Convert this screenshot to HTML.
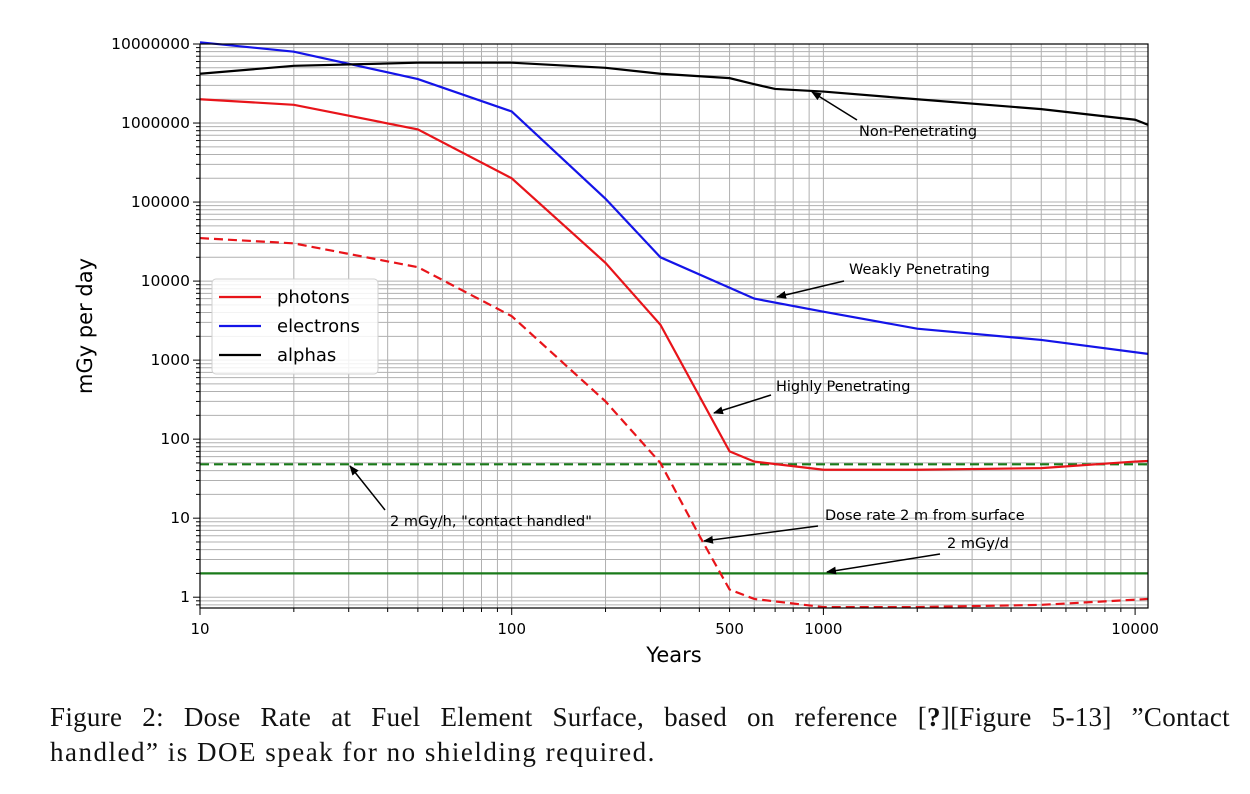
<!DOCTYPE html>
<html><head><meta charset="utf-8"><style>
body{margin:0;background:#fff;width:1250px;height:794px;overflow:hidden}
svg{position:absolute;left:0;top:0}
.cap{position:absolute;left:50px;top:700px;width:1180px;font-family:"Liberation Serif",serif;font-size:27px;letter-spacing:1.5px;line-height:35px;color:#111}
.l1{text-align:justify;text-align-last:justify;white-space:nowrap;letter-spacing:0.3px}
</style></head><body>
<svg id="chart" width="1250" height="690" font-family="DejaVu Sans, Liberation Sans, sans-serif"></svg>
<div class="cap"><div class="l1">Figure 2: Dose Rate at Fuel Element Surface, based on reference [<b>?</b>][Figure 5-13] ”Contact</div><div>handled” is DOE speak for no shielding required.</div></div>
<script>
const photonYears=[10,20,50,100,200,300,500,600,1000,2000,5000,10000,11000];
const photonVals=[2e6,1.7e6,8.3e5,2e5,1.7e4,2800,70,52,41,41,43,52,53];
const photon2mYears=[10,20,50,100,200,300,400,500,600,1000,2000,5000,10000,11000];
const photon2mVals=[35000,30000,15000,3600,300,50,6,1.25,0.95,0.75,0.75,0.8,0.93,0.95];
const electronYears=[10,20,50,100,200,300,600,1000,2000,5000,11000];
const electronVals=[1.05e7,8e6,3.6e6,1.4e6,1.1e5,2e4,6000,4100,2500,1800,1200];
const alphaYears=[10,20,50,100,200,300,500,600,700,1000,2000,5000,10000,11000];
const alphaVals=[4.2e6,5.3e6,5.8e6,5.8e6,5e6,4.2e6,3.7e6,3.1e6,2.7e6,2.5e6,2e6,1.5e6,1.1e6,0.95e6];
const contactLimit=[48];
const dailyLimit=[2];
const xTicks=[10,100,500,1000,10000];
const yTicks=[1,10,100,1000,10000,100000,1000000,10000000];

const L=200,R=1148,T=44,B=608;
const xMin=1,xMax=Math.log10(11000),yMax=7,yMin=Math.log10(0.73);
const X=v=>L+(Math.log10(v)-xMin)/(xMax-xMin)*(R-L);
const Y=v=>T+(yMax-Math.log10(v))/(yMax-yMin)*(B-T);
const svg=document.getElementById('chart');
const NS='http://www.w3.org/2000/svg';
function mk(tag,attrs,parent){const e=document.createElementNS(NS,tag);for(const k in attrs)e.setAttribute(k,attrs[k]);(parent||svg).appendChild(e);return e;}

const grid=mk('g',{});


for(let d=1;d<=4;d++)for(let m=1;m<=9;m++){const v=m*Math.pow(10,d);if(v>11000)continue;const x=X(v);
 mk('line',{x1:x,x2:x,y1:T,y2:B,stroke:'#b0b0b0','stroke-width':1},grid);
 mk('line',{x1:x,x2:x,y1:B,y2:B+(m==1?7:4),stroke:'#000','stroke-width':1},grid);}
for(let d=-1;d<=6;d++)for(let m=1;m<=9;m++){const v=m*Math.pow(10,d);if(v<0.73||v>1e7)continue;const y=Y(v);
 mk('line',{x1:L,x2:R,y1:y,y2:y,stroke:'#b0b0b0','stroke-width':1},grid);
 mk('line',{x1:L-(m==1?7:4),x2:L,y1:y,y2:y,stroke:'#000','stroke-width':1},grid);}
mk('line',{x1:L-7,x2:L,y1:T,y2:T,stroke:'#000'},grid);

xTicks.forEach(v=>{const t=mk('text',{x:X(v),y:B+26,'text-anchor':'middle','font-size':15});t.textContent=v;
 
 });
yTicks.forEach(v=>{const t=mk('text',{x:L-10,y:Y(v)+5,'text-anchor':'end','font-size':15.5});t.textContent=v;
 
 });

function line(xs,ys,color,dash,name){const p=mk('polyline',{points:xs.map((x,i)=>X(x)+','+Y(ys[i])).join(' '),fill:'none',stroke:color,'stroke-width':2.2,'stroke-dasharray':dash||''});
 
 }
line([10,11000],[contactLimit[0],contactLimit[0]],'#1a7a1a','9,5','contact-limit-line');
line([10,11000],[dailyLimit[0],dailyLimit[0]],'#1a7a1a','','daily-limit-line');
line(photonYears,photonVals,'#e8141a','','photons-line');
line(photon2mYears,photon2mVals,'#e8141a','9,5','photons-2m-line');
line(electronYears,electronVals,'#1414e8','','electrons-line');
line(alphaYears,alphaVals,'#000','','alphas-line');
mk('rect',{x:L,y:T,width:R-L,height:B-T,fill:'none',stroke:'#000','stroke-width':1.2});

mk('defs',{}).innerHTML='<marker id="ah" markerWidth="10" markerHeight="8" refX="9" refY="4" orient="auto" markerUnits="userSpaceOnUse"><path d="M0,0 L10,4 L0,8 z" fill="#000"/></marker>';
const ann=[[859,136,"Non-Penetrating",857,120,812,92],[849,274,"Weakly Penetrating",844,281,777,297],[776,391,"Highly Penetrating",771,395,714,413],[390,526,'2 mGy/h, "contact handled"',385,510,350,466],[825,520,"Dose rate 2 m from surface",818,526,704,541],[947,548,"2 mGy/d",940,554,827,572]];
ann.forEach(a=>{const t=mk('text',{x:a[0],y:a[1],'font-size':14.5});t.textContent=a[2];
 
 
 const l=mk('line',{x1:a[3],y1:a[4],x2:a[5],y2:a[6],stroke:'#000','stroke-width':1.5,'marker-end':'url(#ah)'});
 
 });

const lg=mk('g',{});


mk('rect',{x:212,y:279,width:166,height:95,rx:4,fill:'#fff','fill-opacity':0.85,stroke:'#d0d0d0'},lg);
[['photons','#e8141a'],['electrons','#1414e8'],['alphas','#000']].forEach((e,i)=>{const y=297+i*29;
 const g=mk('g',{},lg);
 
 
 mk('line',{x1:219,x2:261,y1:y,y2:y,stroke:e[1],'stroke-width':2.2},g);
 const t=mk('text',{x:277,y:y+6,'font-size':18},g);t.textContent=e[0];});

const xt=mk('text',{x:674,y:662,'text-anchor':'middle','font-size':21});xt.textContent='Years';


const yt=mk('text',{x:0,y:0,'text-anchor':'middle','font-size':21,transform:'translate(92,326) rotate(-90)'});yt.textContent='mGy per day';


</script>
</body></html>
